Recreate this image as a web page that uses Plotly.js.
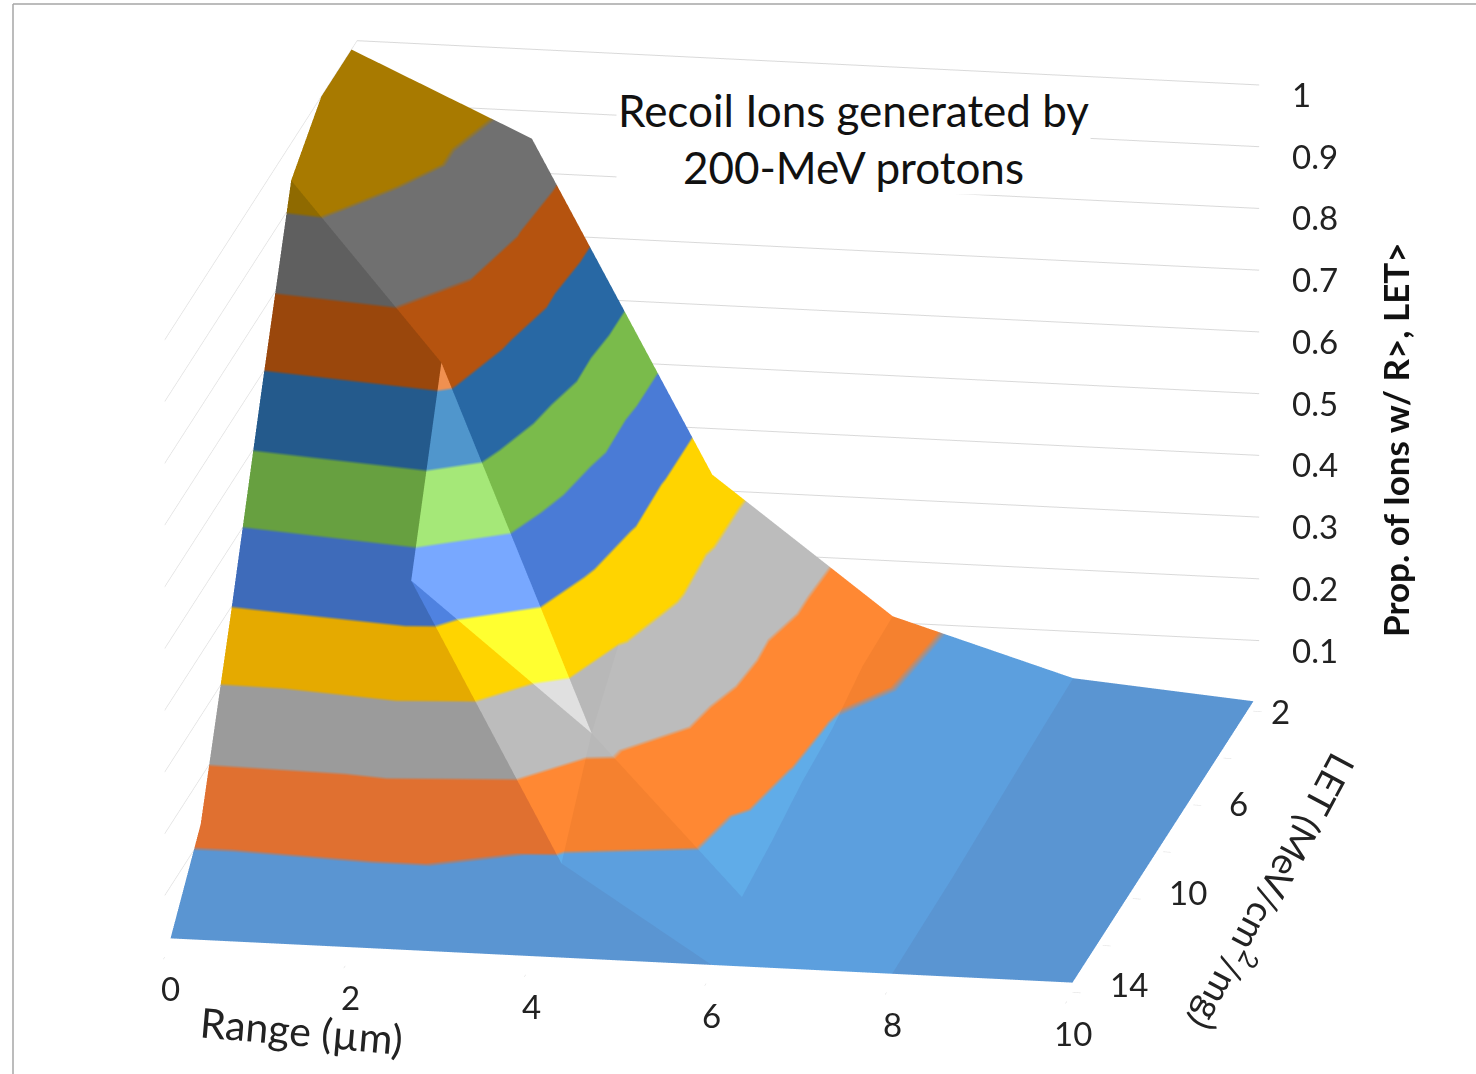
<!DOCTYPE html>
<html><head><meta charset="utf-8">
<script src="https://cdn.plot.ly/plotly-3.0.1.min.js"></script>
<style>html,body{margin:0;padding:0;background:#fff}#c{width:1476px;height:1074px}</style></head>
<body><div id="c"></div>
<script>
const rangeUm = [0,2,4,6,8,10];
const letVals = [14,12,10,8,6,4,2];
const z14 = [0.016,0.016,0.016,0.016,0.016,0.016];
const z12 = [0.125,0.14,0.09,0.05,0.018,0.016];
const z10 = [0.39,0.458,0.225,0.065,0.02,0.016];
const z8  = [0.67,0.735,0.31,0.085,0.025,0.016];
const z6  = [0.94,0.80,0.345,0.095,0.03,0.016];
const z4  = [1.00,0.85,0.34,0.12,0.035,0.016];
const z2  = [1.00,0.87,0.34,0.125,0.039,0.016];
const rows = [z14,z12,z10,z8,z6,z4,z2];
const shadeA = ['#5a95d2','#e07030','#9b9b9b','#e5aa00','#3e6bba','#67a040','#245a8c','#9a470c','#5f5f5f','#8f6a00'];
const shadeB = ['#5c9fde','#f5812f','#b8b8b8','#ffd400','#4a7bd6','#7abb4b','#2868a4','#b5530f','#707070','#a87a00'];
const shadeC = ['#60ace8','#ff8833','#bcbcbc','#ffd400','#4f82e0','#80c455','#3070b0','#c05a15','#7a7a7a','#b08000'];
const shadeD = ['#70b8f5','#ff9a50','#e0e0e0','#ffff30','#78a8ff','#a5e878','#5096cc','#f09050','#8a8a8a','#b08000'];
const zTicks = [0.1,0.2,0.3,0.4,0.5,0.6,0.7,0.8,0.9,1];
const zTickText = ['0.1','0.2','0.3','0.4','0.5','0.6','0.7','0.8','0.9','1'];
const letLabels = [14,10,6,2];
const letLabelShiftX = {14:56,10:55,6:45,2:27};
const letLabelShiftY = {14:9,10:7,6:2,2:0};

const X=[],Y=[],Z=[];
const nx=rangeUm.length, ny=letVals.length;
rows.forEach((r,j)=>r.forEach((v,i)=>{X.push(rangeUm[i]);Y.push(letVals[j]);Z.push(v);}));
function faceShade(i,j,upper){
  if(i===0){ if(j<3) return 'A'; if(j===3) return upper?'B':'A'; return 'B'; }
  if(i===1){ if(j===0) return 'A'; if(j===1) return upper?'C':'A'; if(j===2) return upper?'B':'D'; return 'B'; }
  if(i===2){ if(j===0) return upper?'B':'A'; if(j===1) return upper?'C':'B'; return 'C'; }
  if(i===3){ return 'B'; }
  return 'A';
}
const tris={A:{I:[],J:[],K:[],c:shadeA},B:{I:[],J:[],K:[],c:shadeB},C:{I:[],J:[],K:[],c:shadeC},D:{I:[],J:[],K:[],c:shadeD}};
for(let j=0;j<ny-1;j++)for(let i=0;i<nx-1;i++){
  const a=j*nx+i,b=a+1,c=a+nx,d=c+1;
  const lo=tris[faceShade(i,j,false)]; lo.I.push(a);lo.J.push(b);lo.K.push(c);
  const up=tris[faceShade(i,j,true)];  up.I.push(b);up.J.push(d);up.K.push(c);
}
function scaleOf(cols){const s=[];cols.forEach((c,n)=>{s.push([n/10,c]);s.push([(n+1)/10,c]);});return s;}
const traces=Object.values(tris).map(t=>({type:'mesh3d',x:X,y:Y,z:Z,i:t.I,j:t.J,k:t.K,intensity:Z,intensitymode:'vertex',
  colorscale:scaleOf(t.c),cmin:0,cmax:1,showscale:false,flatshading:true,hoverinfo:'skip',
  lighting:{ambient:1,diffuse:0,specular:0,roughness:1,fresnel:0}}));
const grey='#d9d9d9';
const tf={family:'Lato, sans-serif',size:33,color:'#222'};
const sceneNotes=[];
zTicks.forEach((t,n)=>sceneNotes.push({x:10,y:2,z:t,text:zTickText[n],showarrow:false,xanchor:'left',yanchor:'middle',xshift:36,yshift:0,font:tf}));
rangeUm.forEach(v=>sceneNotes.push({x:v,y:14,z:0,text:String(v),showarrow:false,xanchor:'center',yanchor:'middle',xshift:0,yshift:-40,font:tf}));
letLabels.forEach(v=>sceneNotes.push({x:10,y:v,z:0,text:String(v),showarrow:false,xanchor:'center',yanchor:'middle',xshift:letLabelShiftX[v],yshift:letLabelShiftY[v],font:tf}));
const ax={showgrid:false,zeroline:false,showline:false,showbackground:false,showticklabels:false,title:{text:''}};
const layout={width:1476,height:1074,margin:{l:0,r:0,t:0,b:0},paper_bgcolor:'#fff',showlegend:false,
 scene:{domain:{x:[0,0.965],y:[0.0408,0.9888]},bgcolor:'rgba(0,0,0,0)',aspectmode:'manual',
  aspectratio:{x:1.80,y:2.16,z:1.262},
  camera:{projection:{type:'orthographic'},eye:{x:0.70,y:-3.94,z:1.15},center:{x:0,y:0,z:0},up:{x:0,y:0,z:1}},
  xaxis:Object.assign({},ax,{range:[0,10],tickvals:rangeUm,ticks:'outside',ticklen:8,tickcolor:grey}),
  yaxis:Object.assign({},ax,{autorange:'reversed',tickvals:letVals,ticks:'outside',ticklen:8,tickcolor:grey}),
  zaxis:Object.assign({},ax,{range:[0,1],tickvals:zTicks,ticks:'',showgrid:true,gridcolor:grey,gridwidth:2}),
  annotations:sceneNotes
 },
 shapes:[
  {type:'line',xref:'paper',yref:'paper',x0:13/1476,x1:13/1476,y0:0,y1:1-4/1074,line:{color:'#a6a6a6',width:1.5}},
  {type:'line',xref:'paper',yref:'paper',x0:13/1476,x1:1,y0:1-4/1074,y1:1-4/1074,line:{color:'#a6a6a6',width:1.5}}
 ],
 annotations:[
  {xref:'paper',yref:'paper',xanchor:'center',yanchor:'middle',x:853/1476,y:1-138/1074,text:'Recoil Ions generated by<br>200-MeV protons',showarrow:false,bgcolor:'#ffffff',font:{family:'Lato, sans-serif',size:44,color:'#111'},align:'center'},
  {xref:'paper',yref:'paper',xanchor:'center',yanchor:'middle',x:1395/1476,y:1-440/1074,text:'<b>Prop. of Ions w/ R>, LET></b>',textangle:-90,showarrow:false,font:{family:'Lato, sans-serif',size:35,color:'#111'}},
  {xref:'paper',yref:'paper',xanchor:'center',yanchor:'middle',x:1275/1476,y:1-893/1074,text:'LET (MeV/cm<sup>2</sup>/mg)',textangle:118,showarrow:false,font:{family:'Lato, sans-serif',size:37,color:'#222'}},
  {xref:'paper',yref:'paper',xanchor:'center',yanchor:'middle',x:301/1476,y:1-1030/1074,text:'Range (µm)',textangle:5,showarrow:false,font:{family:'Lato, sans-serif',size:41,color:'#222'}}
 ]};
Plotly.newPlot('c',traces,layout,{displayModeBar:false});
</script></body></html>
